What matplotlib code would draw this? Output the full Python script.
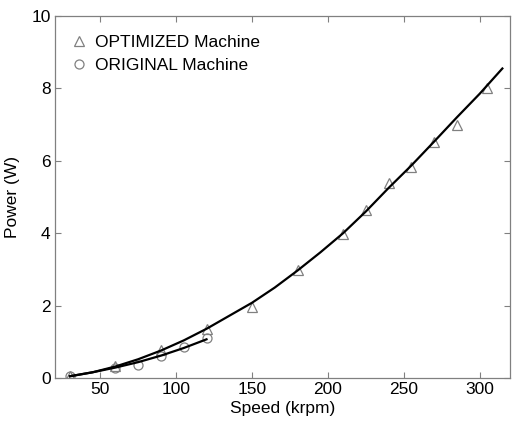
import matplotlib
matplotlib.use("Agg")
import matplotlib.pyplot as plt

plt.rcParams['font.family'] = ['Liberation Sans', 'DejaVu Sans']

# Data
opt_speed = [30, 60, 90, 120, 150, 180, 210, 225, 240, 255, 270, 285, 305]
opt_power = [0.05, 0.33, 0.77, 1.35, 1.96, 2.98, 3.98, 4.64, 5.4, 5.84, 6.53, 6.99, 8.0]
orig_speed = [30, 60, 75, 90, 105, 120]
orig_power = [0.05, 0.27, 0.37, 0.6, 0.85, 1.1]

opt_fit_speed = [30, 45, 60, 75, 90, 105, 120, 135, 150, 165, 180, 195, 210, 225, 240, 255, 270, 285, 300, 315]
opt_fit_power = [0.05, 0.16, 0.32, 0.52, 0.76, 1.04, 1.36, 1.72, 2.08, 2.5, 2.97, 3.47, 4.0, 4.6, 5.25, 5.87, 6.53, 7.2, 7.85, 8.55]
orig_fit_speed = [30, 45, 60, 75, 90, 105, 120]
orig_fit_power = [0.05, 0.16, 0.29, 0.44, 0.62, 0.83, 1.07]

xticks = [50, 100, 150, 200, 250, 300]
yticks = [0, 2, 4, 6, 8, 10]

fig = plt.figure(figsize=(5.12, 4.21), dpi=100)
ax = fig.add_axes([0.107, 0.102, 0.889, 0.86])

gray = '#808080'
ax.plot(opt_speed, opt_power, linestyle='none', marker='^', markersize=6.5,
        markerfacecolor='none', markeredgecolor=gray, markeredgewidth=0.9,
        label='OPTIMIZED Machine')
ax.plot(orig_speed, orig_power, linestyle='none', marker='o', markersize=6.5,
        markerfacecolor='none', markeredgecolor=gray, markeredgewidth=0.9,
        label='ORIGINAL Machine')
ax.plot(opt_fit_speed, opt_fit_power, color='black', linewidth=1.6)
ax.plot(orig_fit_speed, orig_fit_power, color='black', linewidth=1.6)

ax.set_xlim(20, 320)
ax.set_ylim(0, 10)
ax.set_xticks(xticks)
ax.set_yticks(yticks)
ax.tick_params(direction='in', top=True, right=True, labelsize=12.5,
               color=gray, length=4, width=0.8, pad=3)
for s in ax.spines.values():
    s.set_color(gray)
    s.set_linewidth(0.9)

ax.set_xlabel('Speed (krpm)', fontsize=12.5, labelpad=3)
ax.set_ylabel('Power (W)', fontsize=12.5, labelpad=8)

leg = ax.legend(loc='upper left', bbox_to_anchor=(0.015, 0.966), frameon=False,
                fontsize=12.5, handletextpad=0.3, borderaxespad=0.0,
                handlelength=1.2, labelspacing=0.45)

fig.savefig('out.png', dpi=100)
